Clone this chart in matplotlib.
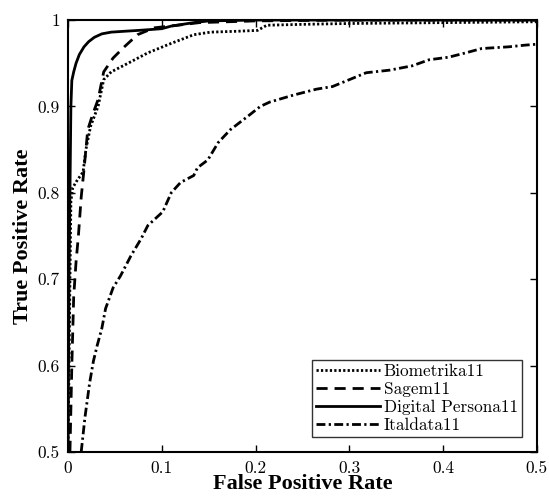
import matplotlib
matplotlib.use("Agg")
import matplotlib.pyplot as plt
from matplotlib.ticker import FuncFormatter

# ROC curves
bio_fpr = [0, 0.001, 0.002, 0.003, 0.005, 0.01, 0.016, 0.019, 0.024, 0.032, 0.038, 0.046,
           0.064, 0.085, 0.11, 0.134, 0.152, 0.18, 0.202, 0.212, 0.25, 0.3, 0.4, 0.5]
bio_tpr = [0.5, 0.6, 0.7, 0.79, 0.806, 0.815, 0.824, 0.85, 0.877, 0.90, 0.931, 0.94,
           0.95, 0.962, 0.973, 0.983, 0.986, 0.987, 0.988, 0.994, 0.995, 0.996, 0.997, 0.998]

sag_fpr = [0.002, 0.004, 0.006, 0.0085, 0.011, 0.014, 0.017, 0.021, 0.026, 0.032, 0.038,
           0.048, 0.06, 0.074, 0.092, 0.117, 0.14, 0.17, 0.2, 0.3, 0.4, 0.5]
sag_tpr = [0.5, 0.6, 0.68, 0.72, 0.75, 0.795, 0.827, 0.873, 0.89, 0.908, 0.94,
           0.956, 0.969, 0.983, 0.991, 0.994, 0.997, 0.998, 0.999, 1.0, 1.0, 1.0]

dp_fpr = [0, 0.0005, 0.001, 0.002, 0.003, 0.004, 0.006, 0.0085, 0.012, 0.017, 0.022, 0.028,
          0.036, 0.046, 0.06, 0.075, 0.088, 0.1, 0.11, 0.122, 0.134, 0.15, 0.2, 0.3, 0.4, 0.5]
dp_tpr = [0.5, 0.6, 0.7, 0.8, 0.9, 0.93, 0.94, 0.95, 0.96, 0.969, 0.975, 0.98,
          0.984, 0.986, 0.987, 0.988, 0.989, 0.99, 0.993, 0.995, 0.997, 0.999, 1.0, 1.0, 1.0, 1.0]

ital_fpr = [0.014, 0.018, 0.023, 0.027, 0.031, 0.036, 0.04, 0.048, 0.056, 0.067, 0.078, 0.085,
            0.101, 0.11, 0.12, 0.134, 0.138, 0.149, 0.16, 0.173, 0.191, 0.205, 0.215, 0.24,
            0.265, 0.282, 0.30, 0.318, 0.343, 0.367, 0.385, 0.406, 0.424, 0.441, 0.47, 0.488, 0.5]
ital_tpr = [0.5, 0.54, 0.58, 0.605, 0.623, 0.643, 0.666, 0.69, 0.704, 0.727, 0.747, 0.762,
            0.778, 0.80, 0.812, 0.82, 0.829, 0.838, 0.858, 0.873, 0.888, 0.90, 0.905, 0.913,
            0.92, 0.923, 0.931, 0.939, 0.942, 0.947, 0.954, 0.957, 0.962, 0.967, 0.969, 0.971, 0.972]

labels = ["Biometrika11", "Sagem11", "Digital Persona11", "Italdata11"]
x_ticks = [0, 0.1, 0.2, 0.3, 0.4, 0.5]
y_ticks = [0.5, 0.6, 0.7, 0.8, 0.9, 1]

plt.rcParams["axes.formatter.use_mathtext"] = True

fig = plt.figure(figsize=(5.49, 5.01), dpi=100)
ax = fig.add_axes([0.124, 0.098, 0.854, 0.862])

lw = 2.0
ax.plot(bio_fpr, bio_tpr, color="black", lw=lw, dashes=(0.8, 0.8), label=labels[0])
ax.plot(sag_fpr, sag_tpr, color="black", lw=lw, dashes=(4, 2.5), label=labels[1])
ax.plot(dp_fpr, dp_tpr, color="black", lw=lw, linestyle="-", label=labels[2])
ax.plot(ital_fpr, ital_tpr, color="black", lw=lw, dashes=(3.2, 1.2, 0.8, 1.2), label=labels[3])

ax.set_xlim(0, 0.5)
ax.set_ylim(0.5, 1)
ax.set_xticks(x_ticks)
ax.set_yticks(y_ticks)
fmt = FuncFormatter(lambda v, p: "%g" % round(v, 3))
ax.xaxis.set_major_formatter(fmt)
ax.yaxis.set_major_formatter(fmt)
ax.tick_params(direction="in", top=True, right=True, length=5, width=1, labelsize=12.5, pad=6)
for lab in ax.get_xticklabels() + ax.get_yticklabels():
    lab.set_family("cmr10")
for s in ax.spines.values():
    s.set_linewidth(1.5)

ax.set_xlabel("False Positive Rate", family="Liberation Serif", fontweight="bold", fontsize=16, labelpad=-1)
ax.set_ylabel("True Positive Rate", family="Liberation Serif", fontweight="bold", fontsize=16, labelpad=3)

leg = ax.legend(loc="lower right", prop={"family": "cmr10", "size": 12.4}, handlelength=3.7,
                handletextpad=0.25, borderaxespad=0.85, fancybox=False, framealpha=1,
                edgecolor="#333333", labelspacing=0.15, borderpad=0.25)
leg.get_frame().set_linewidth(1)

fig.savefig("out.png", dpi=100)
